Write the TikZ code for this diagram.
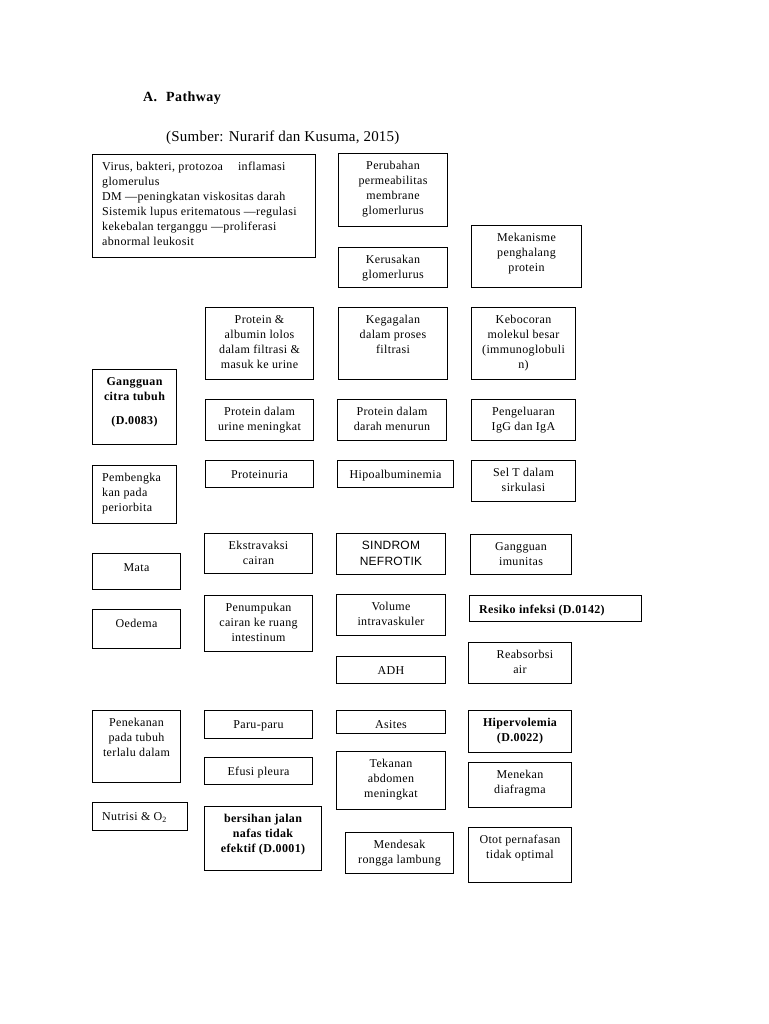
\documentclass[tikz,border=0pt]{standalone}
\usepackage{fontspec}
\setmainfont{Liberation Serif}[LetterSpace=3]
\newfontfamily\sansf{Liberation Sans}[LetterSpace=2]
\newfontfamily\srcf{Liberation Serif}[LetterSpace=1.5]
\tikzset{
  box/.style={draw, line width=1pt, inner sep=0pt, anchor=north west},
  txt/.style={inner sep=0pt, align=center, anchor=north, font=\fontsize{12}{15}\selectfont, execute at begin node=\strut},
  txtb/.style={txt, font=\fontsize{12}{15}\selectfont\bfseries},
  txts/.style={txt, font=\fontsize{12}{15.5}\selectfont\sansf},
  txtl/.style={txt, align=left, anchor=north west},
  txtlb/.style={txtl, font=\fontsize{12}{15}\selectfont\bfseries}
}
% centred text: [style]{name}{x}{y}{w}{h}{text}
\newcommand{\bx}[7][txt]{%
  \node[box, minimum width=#5pt, minimum height=#6pt] (#2) at (#3,#4) {};
  \node[#1] (#2-t) at ([yshift=-8pt]#2.north) {#7};}
% left text
\newcommand{\bxl}[7][txtl]{%
  \node[box, minimum width=#5pt, minimum height=#6pt] (#2) at (#3,#4) {};
  \node[#1] (#2-t) at ([xshift=10pt,yshift=-8pt]#2.north west) {#7};}
\begin{document}
\begin{tikzpicture}[x=1pt,y=-1pt]
\useasboundingbox[fill=white] (0,0) rectangle (768,1024);
\node[anchor=base west, inner sep=0pt, font=\fontsize{14}{16}\selectfont\bfseries] (titleA) at (143,102) {A.};
\node[anchor=base west, inner sep=0pt, font=\fontsize{14}{16}\selectfont\bfseries] (titleP) at (166,102) {Pathway};
\node[anchor=base west, inner sep=0pt, font=\fontsize{15}{17}\selectfont\srcf] (source) at (166,142) {(Sumber: Nurarif dan Kusuma, 2015)};

\bxl{cause}{92}{154}{223}{103}{Virus, bakteri, protozoa\hspace{15pt}inflamasi\\glomerulus\\DM —peningkatan viskositas darah\\Sistemik lupus eritematous —regulasi\\kekebalan terganggu —proliferasi\\abnormal leukosit}
\bx{perubahan}{338}{153}{109}{73}{Perubahan\\permeabilitas\\membrane\\glomerlurus}
\bx{kerusakan}{338}{247}{109}{40}{Kerusakan\\glomerlurus}
\bx{mekanisme}{471}{225}{110}{62}{Mekanisme\\penghalang\\protein}
\bx{albumin}{205}{307}{108}{72}{Protein \&\\albumin lolos\\dalam filtrasi \&\\masuk ke urine}
\bx{kegagalan}{338}{307}{109}{72}{Kegagalan\\dalam proses\\filtrasi}
\bx{kebocoran}{471}{307}{104}{72}{Kebocoran\\molekul besar\\(immunoglobuli\\n)}
\bx[txtb]{citra}{92}{369}{84}{75}{Gangguan\\citra tubuh\\[9pt](D.0083)}
\bx{urine}{205}{399}{108}{41}{Protein dalam\\urine meningkat}
\bx{darah}{337}{399}{109}{41}{Protein dalam\\darah menurun}
\bx{igg}{471}{399}{104}{41}{Pengeluaran\\IgG dan IgA}
\bx{proteinuria}{205}{460}{108}{27}{Proteinuria}
\bx{hipoalb}{337}{460}{116}{27}{Hipoalbuminemia}
\bx{selt}{471}{460}{104}{41}{Sel T dalam\\sirkulasi}
\bxl{pembengka}{92}{465}{84}{58}{Pembengka\\kan pada\\periorbita}
\bx{ekstravaksi}{204}{533}{108}{40}{Ekstravaksi\\cairan}
\bx[txts]{sindrom}{336}{533}{109}{41}{SINDROM\\NEFROTIK}
\bx{imunitas}{470}{534}{101}{40}{Gangguan\\imunitas}
\bx{mata}{92}{553}{88}{36}{Mata}
\bx{oedema}{92}{609}{88}{39}{Oedema}
\bx{penumpukan}{204}{595}{108}{56}{Penumpukan\\cairan ke ruang\\intestinum}
\bx{volume}{336}{594}{109}{41}{Volume\\intravaskuler}
\bxl[txtlb]{resiko}{469}{595}{172}{26}{Resiko infeksi (D.0142)}
\bx{adh}{336}{656}{109}{27}{ADH}
\bx{reabsorbsi}{468}{642}{103}{41}{\hspace*{10pt}Reabsorbsi\\air}
\bx{penekanan}{92}{710}{88}{72}{Penekanan\\pada tubuh\\terlalu dalam}
\bx{paru}{204}{710}{108}{28}{Paru-paru}
\bx{asites}{336}{710}{109}{23}{Asites}
\bx[txtb]{hiper}{468}{710}{103}{42}{Hipervolemia\\(D.0022)}
\bx{efusi}{204}{757}{108}{27}{Efusi pleura}
\bx{tekanan}{336}{751}{109}{58}{Tekanan\\abdomen\\meningkat}
\bx{menekan}{468}{762}{103}{45}{Menekan\\diafragma}
\bxl{nutrisi}{92}{802}{95}{28}{Nutrisi \& O\textsubscript{2}}
\bx[txtb]{bersihan}{204}{806}{117}{64}{bersihan jalan\\nafas tidak\\efektif (D.0001)}
\bx{mendesak}{345}{832}{108}{41}{Mendesak\\rongga lambung}
\bx{otot}{468}{827}{103}{55}{Otot pernafasan\\tidak optimal}
\end{tikzpicture}
\end{document}
